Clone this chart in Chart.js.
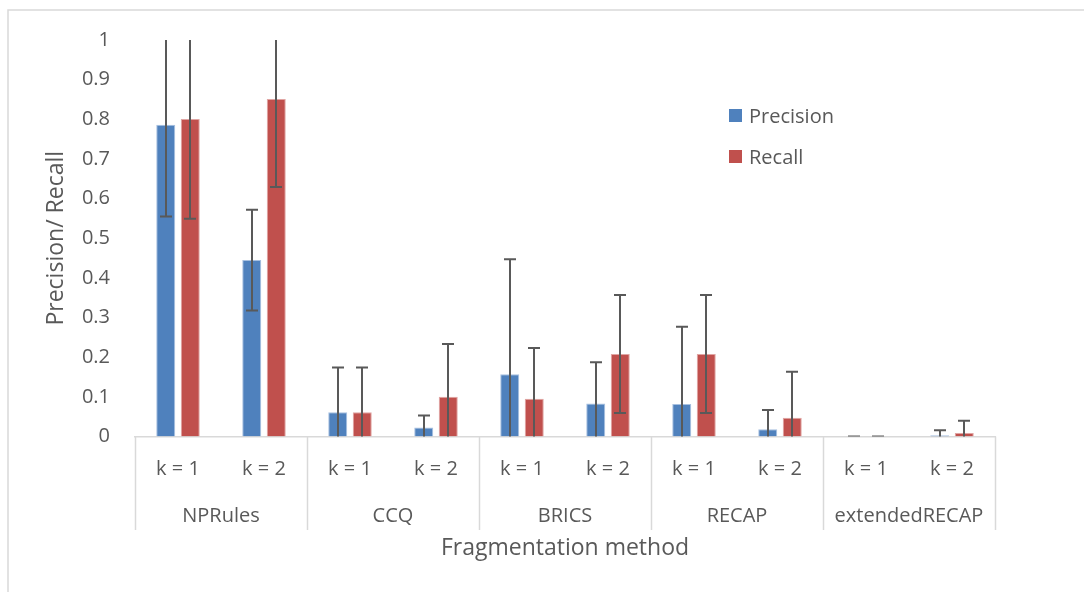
<!DOCTYPE html>
<html>
<head>
<meta charset="utf-8">
<script src="https://cdn.jsdelivr.net/npm/chart.js@4.4.1/dist/chart.umd.min.js"></script>
<style>
  html, body { margin: 0; padding: 0; background: #fff; overflow: hidden; }
  #wrap { position: relative; width: 1084px; height: 592px; }
  #legend { position: absolute; left: 729px; top: 101px; font-family: "Open Sans", sans-serif; font-size: 20px; color: #595959; }
  #legend div { display: flex; align-items: center; height: 28px; margin-bottom: 13px; }
  #legend span.box { display: inline-block; width: 13px; height: 13px; margin-right: 7px; }
</style>
</head>
<body>
<div id="wrap">
  <canvas id="chart" width="1084" height="592"></canvas>
  <div id="legend">
    <div><span class="box" style="background:#4f81bd"></span>Precision</div>
    <div><span class="box" style="background:#c0504d"></span>Recall</div>
  </div>
</div>
<script>
const kLabels = ["k = 1", "k = 2", "k = 1", "k = 2", "k = 1", "k = 2", "k = 1", "k = 2", "k = 1", "k = 2"];
const methods = ["NPRules", "CCQ", "BRICS", "RECAP", "extendedRECAP"];

const precision = [0.786, 0.445, 0.061, 0.023, 0.157, 0.083, 0.082, 0.018, 0, 0.003];
const precisionErr = [0.231, 0.127, 0.113, 0.030, 0.290, 0.104, 0.195, 0.049, 0, 0.013];
const recall = [0.801, 0.851, 0.061, 0.100, 0.095, 0.208, 0.208, 0.047, 0, 0.009];
const recallErr = [0.252, 0.222, 0.113, 0.133, 0.128, 0.149, 0.149, 0.116, 0, 0.031];

const yTicks = [0, 0.1, 0.2, 0.3, 0.4, 0.5, 0.6, 0.7, 0.8, 0.9, 1];

const textColor = "#595959";
const lineGray = "#d9d9d9";
Chart.defaults.font.family = "'Open Sans', sans-serif";
Chart.defaults.color = textColor;

// outer frame + group separators under the x axis
const framePlugin = {
  id: "frame",
  beforeDraw(chart) {
    const { ctx } = chart;
    ctx.save();
    ctx.strokeStyle = lineGray;
    ctx.lineWidth = 1.5;
    ctx.beginPath();
    ctx.moveTo(8, 592);
    ctx.lineTo(8, 10);
    ctx.lineTo(1084, 10);
    ctx.stroke();
    ctx.restore();
  },
  afterDraw(chart) {
    const { ctx, chartArea } = chart;
    const x = chart.scales.x;
    const step = (x.right - x.left) / methods.length;
    ctx.save();
    ctx.strokeStyle = lineGray;
    ctx.lineWidth = 1.5;
    for (let i = 0; i <= methods.length; i++) {
      const px = Math.round(x.left + i * step) + 0.5;
      ctx.beginPath();
      ctx.moveTo(px, chartArea.bottom);
      ctx.lineTo(px, 530);
      ctx.stroke();
    }
    ctx.restore();
  },
};

// error bars, clipped to the plot area like the original
const errorBarPlugin = {
  id: "errorBars",
  afterDatasetsDraw(chart) {
    const { ctx, chartArea } = chart;
    const y = chart.scales.y;
    ctx.save();
    ctx.beginPath();
    ctx.rect(chartArea.left, chartArea.top, chartArea.right - chartArea.left, chartArea.bottom - chartArea.top);
    ctx.clip();
    ctx.strokeStyle = "#595959";
    ctx.lineWidth = 2;
    chart.data.datasets.forEach((ds, i) => {
      const meta = chart.getDatasetMeta(i);
      meta.data.forEach((bar, j) => {
        const v = ds.data[j];
        const e = ds.errors[j];
        const top = y.getPixelForValue(v + e);
        const bot = y.getPixelForValue(v - e);
        const cx = Math.round(bar.x);
        ctx.beginPath();
        ctx.moveTo(cx, top);
        ctx.lineTo(cx, bot);
        ctx.moveTo(cx - 6, top);
        ctx.lineTo(cx + 6, top);
        ctx.moveTo(cx - 6, bot);
        ctx.lineTo(cx + 6, bot);
        ctx.stroke();
      });
    });
    ctx.restore();
  },
};

new Chart(document.getElementById("chart"), {
  type: "bar",
  data: {
    labels: kLabels,
    datasets: [
      {
        label: "Precision",
        data: precision,
        errors: precisionErr,
        backgroundColor: "#4f81bd",
        borderColor: "#a7c0e0",
        borderWidth: 1,
        categoryPercentage: 0.57,
        barPercentage: 0.776,
      },
      {
        label: "Recall",
        data: recall,
        errors: recallErr,
        backgroundColor: "#c0504d",
        borderColor: "#e0a5a3",
        borderWidth: 1,
        categoryPercentage: 0.57,
        barPercentage: 0.776,
      },
    ],
  },
  options: {
    responsive: false,
    animation: false,
    layout: { padding: { left: 0, right: 89, top: 40, bottom: 0 } },
    plugins: {
      legend: { display: false },
      tooltip: { enabled: false },
    },
    scales: {
      y: {
        min: 0,
        max: 1,
        afterFit: (s) => { s.width = 135; },
        afterBuildTicks: (s) => { s.ticks = yTicks.map((v) => ({ value: v })); },
        grid: { display: false, drawTicks: false },
        border: { display: false },
        ticks: {
          padding: 25,
          font: { size: 20 },
          color: textColor,
          callback: (v) => String(+v.toFixed(1)),
        },
        title: {
          display: true,
          text: "Precision/ Recall",
          font: { size: 23 },
          color: textColor,
          padding: { top: 43, bottom: 0 },
        },
      },
      x: {
        weight: 0,
        afterFit: (s) => { s.height = 43; },
        grid: { display: false, drawTicks: false },
        border: { display: true, color: lineGray, width: 1.5 },
        ticks: { padding: 20.5, font: { size: 20 }, color: textColor, maxRotation: 0, autoSkip: false },
      },
      x2: {
        type: "category",
        position: "bottom",
        weight: 1,
        labels: methods,
        offset: true,
        afterFit: (s) => { s.height = 112.5; },
        grid: { display: false, drawTicks: false },
        border: { display: false },
        ticks: { padding: 24.5, font: { size: 20 }, color: textColor, maxRotation: 0, autoSkip: false },
        title: {
          display: true,
          text: "Fragmentation method",
          font: { size: 23 },
          color: textColor,
          padding: { top: 0, bottom: 30 },
        },
      },
    },
  },
  plugins: [framePlugin, errorBarPlugin],
});
</script>
</body>
</html>
